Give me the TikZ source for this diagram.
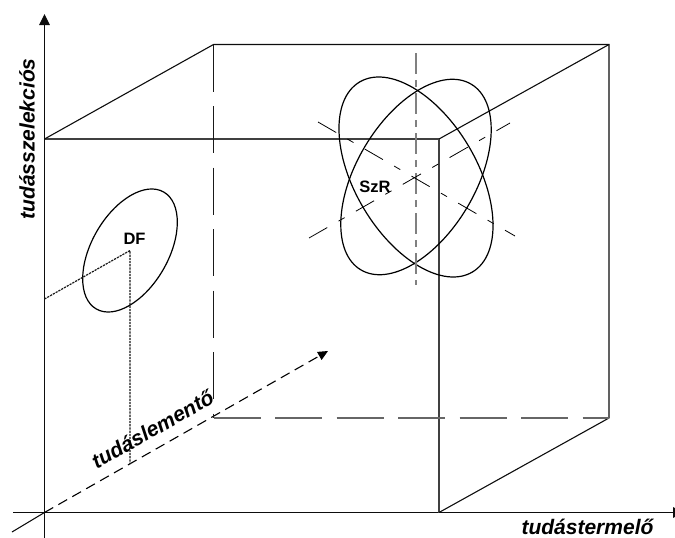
\documentclass[tikz,border=0pt]{standalone}
\usepackage{fontspec}
\setmainfont{Liberation Sans}
\usetikzlibrary{arrows.meta,shapes.geometric}
\tikzset{
  x=1pt,y=-1pt,
  axisline/.style={line width=1.1pt,black!95},
  cubeline/.style={line width=1.3pt,black!75},
  backline/.style={line width=1.2pt,black!60,dash pattern=on 47pt off 14.5pt},
  backdark/.style={line width=1pt,black!90,dash pattern=on 47pt off 14.5pt},
  zdash/.style={line width=1.1pt,black,dash pattern=on 10pt off 6pt},
  dotline/.style={line width=1.2pt,black!90,dash pattern=on 2.2pt off 1pt},
  chain/.style={line width=0.8pt,black,dash pattern=on 21pt off 13pt on 7pt off 13pt},
  vchain/.style={line width=1.2pt,black!50,dash pattern=on 21pt off 6pt on 7pt off 6pt},
  tip/.style={-{Triangle[length=11pt,width=10.5pt]}},
  ring/.style={draw,ellipse,line width=1.2pt,inner sep=0pt,black},
  lab/.style={font=\bfseries\fontsize{16.5}{18}\selectfont,inner sep=0pt},
  axlab/.style={font=\bfseries\itshape\fontsize{21}{24}\selectfont,inner sep=0pt},
}
\begin{document}
\begin{tikzpicture}
\useasboundingbox (0,0) rectangle (675,538);
\coordinate (O) at (44.5,512.5);
\coordinate (Ytop) at (44.5,14);
\coordinate (Ybot) at (44.5,538);
\coordinate (Xleft) at (13,512.5);
\coordinate (Xright) at (684,512.5);
\coordinate (Ztail) at (12,532);
\coordinate (Ztip) at (328,351);
\coordinate (A) at (44.5,139);
\coordinate (B) at (439,139);
\coordinate (C) at (439,512.5);
\coordinate (D) at (213.5,44.5);
\coordinate (E) at (609,44.5);
\coordinate (F) at (609,418);
\coordinate (G) at (213.5,418);
\coordinate (P) at (130,250.5);
\coordinate (Pl) at (44.5,299);
\coordinate (Pb) at (130,464);
\coordinate (Va) at (416,53);
\coordinate (Vb) at (416,285);
\coordinate (La) at (309,238);
\coordinate (Lb) at (510,123);
\coordinate (Ma) at (318,122);
\coordinate (Mb) at (515,236);
% axes
\draw[axisline,tip] (Ybot) -- (Ytop);
\draw[axisline,tip] (Xleft) -- (Xright);
\draw[axisline] (Ztail) -- (O);
\draw[zdash,-{Triangle[length=10pt,width=9pt]}] (O) -- (Ztip);
% cube
\draw[cubeline] (A) -- (B) -- (C);
\draw[axisline] (A) -- (D) -- (E) -- (F) -- (C);
\draw[axisline] (B) -- (E);
\draw[backdark] (D) -- (G);
\draw[backline] (G) -- (F);
% ellipses
\node[ring,minimum width=135pt,minimum height=76.6pt,rotate=60] (df) at (P) {};
\node[ring,minimum width=216pt,minimum height=119pt,rotate=59.3] (e1) at (416,177) {};
\node[ring,minimum width=221pt,minimum height=122pt,rotate=-59.3] (e2) at (416,177) {};
% dotted
\draw[dotline] (Pl) -- (P) -- (Pb);
% chain lines
\draw[vchain] (Va) -- (Vb);
\draw[chain] (La) -- (Lb);
\draw[chain] (Ma) -- (Mb);
% labels
\node[lab] (dfl) at (134.5,238.5) {DF};
\node[lab] (szr) at (375,187) {SzR};
\node[axlab,rotate=90] (ly) at (27,139) {tudásszelekciós};
\node[axlab] (lx) at (587.5,527) {tudástermelő};
\node[axlab,rotate=29.5] (lz) at (152.5,429) {tudáslementő};
\end{tikzpicture}
\end{document}
